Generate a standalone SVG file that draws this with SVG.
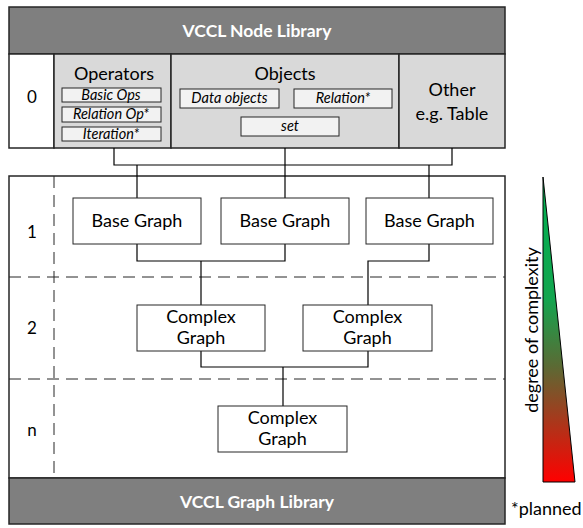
<svg xmlns="http://www.w3.org/2000/svg" width="583" height="528" viewBox="0 0 583 528">
  <defs>
    <linearGradient id="complexity" x1="0" y1="0" x2="0" y2="1">
      <stop offset="0" stop-color="#00b050"/>
      <stop offset="0.4" stop-color="#13a54f"/>
      <stop offset="0.62" stop-color="#5b6a34"/>
      <stop offset="1" stop-color="#ff0000"/>
    </linearGradient>
    <style>
      text { font-family: Lato, "Open Sans", "Liberation Sans", sans-serif; fill: #000; }
      .hdr { fill: #7f7f7f; stroke: #262626; stroke-width: 1.5; }
      .hdr-t { fill: #fff; font-weight: bold; font-size: 17.5px; text-anchor: middle; }
      .cat { fill: #d9d9d9; stroke: #262626; stroke-width: 1.5; }
      .cat-t { font-size: 18px; text-anchor: middle; }
      .item { fill: #f2f2f2; stroke: #262626; stroke-width: 1; }
      .item-t { font-size: 14.5px; font-style: italic; text-anchor: middle; }
      .frame { fill: #fff; stroke: #262626; stroke-width: 1.5; }
      .node { fill: #fff; stroke: #262626; stroke-width: 1; }
      .node-t { font-size: 18px; text-anchor: middle; }
      .lvl { font-size: 17px; text-anchor: middle; }
      .dash { fill: none; stroke: #262626; stroke-width: 1; stroke-dasharray: 12 7; }
      .wire { fill: none; stroke: #000; stroke-width: 1.2; }
    </style>
  </defs>

  <!-- node library panel -->
  <g id="node-library">
    <rect class="hdr" x="9" y="7" width="496" height="47"/>
    <text class="hdr-t" x="257" y="37">VCCL Node Library</text>
    <rect class="frame" x="9" y="54" width="45" height="94"/>
    <text class="lvl" x="32" y="103">0</text>
  </g>

  <g id="operators">
    <rect class="cat" x="54" y="54" width="117" height="94"/>
    <text class="cat-t" x="114" y="80">Operators</text>
    <rect class="item" x="62" y="88" width="99" height="14"/>
    <text class="item-t" x="111" y="100">Basic Ops</text>
    <rect class="item" x="62" y="107" width="99" height="15"/>
    <text class="item-t" x="111" y="119">Relation Op*</text>
    <rect class="item" x="62" y="127" width="99" height="14"/>
    <text class="item-t" x="111" y="139">Iteration*</text>
  </g>

  <g id="objects">
    <rect class="cat" x="171" y="54" width="228" height="94"/>
    <text class="cat-t" x="285" y="80">Objects</text>
    <rect class="item" x="180" y="89" width="99" height="19"/>
    <text class="item-t" x="229.5" y="103">Data objects</text>
    <rect class="item" x="294" y="89" width="98" height="19"/>
    <text class="item-t" x="343" y="103">Relation*</text>
    <rect class="item" x="241" y="117" width="98" height="19"/>
    <text class="item-t" x="290" y="131">set</text>
  </g>

  <g id="other">
    <rect class="cat" x="399" y="54" width="106" height="94"/>
    <text class="cat-t" x="452" y="96">Other</text>
    <text class="cat-t" x="452" y="120">e.g. Table</text>
  </g>

  <!-- graph levels frame -->
  <g id="graph-levels">
    <rect class="frame" x="9" y="176" width="496" height="302"/>
    <line class="dash" x1="54" y1="176" x2="54" y2="478"/>
    <line class="dash" x1="9" y1="277" x2="505" y2="277"/>
    <line class="dash" x1="9" y1="379" x2="505" y2="379"/>
    <text class="lvl" x="32" y="238">1</text>
    <text class="lvl" x="32" y="334">2</text>
    <text class="lvl" x="32" y="436">n</text>
  </g>

  <g id="graph-library">
    <rect class="hdr" x="9" y="478" width="496" height="46"/>
    <text class="hdr-t" x="257" y="508">VCCL Graph Library</text>
  </g>

  <!-- connectors -->
  <g id="connectors">
    <polyline class="wire" points="114,148 114,165 452,165 452,148"/>
    <line class="wire" x1="285" y1="148" x2="285" y2="198"/>
    <line class="wire" x1="137" y1="165" x2="137" y2="198"/>
    <line class="wire" x1="429" y1="165" x2="429" y2="198"/>
    <polyline class="wire" points="137,244 137,261 285,261 285,244"/>
    <line class="wire" x1="201" y1="261" x2="201" y2="305"/>
    <polyline class="wire" points="429,244 429,261 368,261 368,305"/>
    <polyline class="wire" points="201,351 201,367 368,367 368,351"/>
    <line class="wire" x1="283" y1="367" x2="283" y2="406"/>
  </g>

  <g id="base-graph-1">
    <rect class="node" x="73" y="198" width="128" height="46"/>
    <text class="node-t" x="137" y="227">Base Graph</text>
  </g>
  <g id="base-graph-2">
    <rect class="node" x="221" y="198" width="128" height="46"/>
    <text class="node-t" x="285" y="227">Base Graph</text>
  </g>
  <g id="base-graph-3">
    <rect class="node" x="366" y="198" width="127" height="46"/>
    <text class="node-t" x="429.5" y="227">Base Graph</text>
  </g>

  <g id="complex-graph-1">
    <rect class="node" x="137" y="305" width="128" height="46"/>
    <text class="node-t" x="201" y="323">Complex</text>
    <text class="node-t" x="201" y="344">Graph</text>
  </g>
  <g id="complex-graph-2">
    <rect class="node" x="303" y="305" width="129" height="46"/>
    <text class="node-t" x="367.5" y="323">Complex</text>
    <text class="node-t" x="367.5" y="344">Graph</text>
  </g>
  <g id="complex-graph-n">
    <rect class="node" x="218" y="406" width="129" height="46"/>
    <text class="node-t" x="282.5" y="424">Complex</text>
    <text class="node-t" x="282.5" y="445">Graph</text>
  </g>

  <!-- complexity scale -->
  <g id="complexity-scale">
    <polygon points="543,177 575,482 543,482" fill="url(#complexity)" stroke="#000" stroke-width="1"/>
    <text class="node-t" transform="translate(538,330) rotate(-90)" x="0" y="0">degree of complexity</text>
  </g>

  <text x="511" y="515" font-size="18">*planned</text>
</svg>
